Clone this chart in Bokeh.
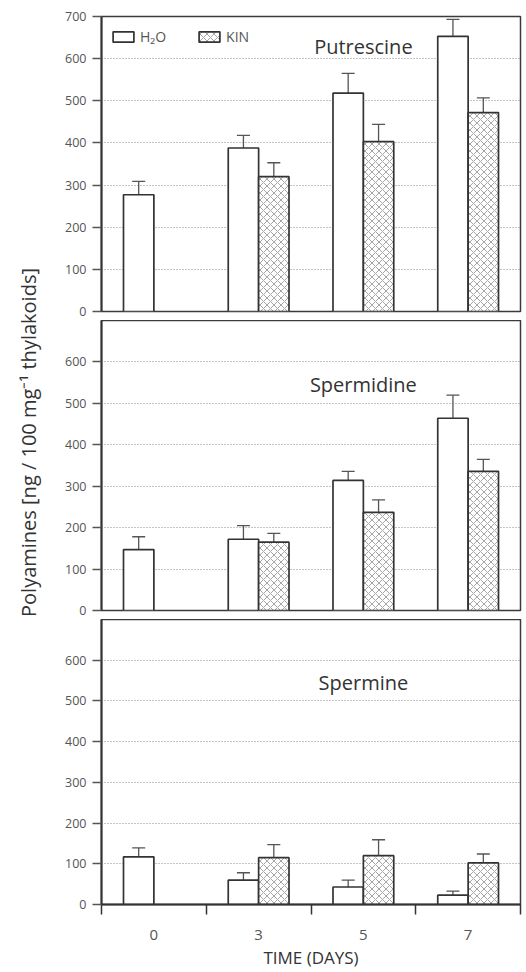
import math
from bokeh.plotting import figure
from bokeh.layouts import column, row
from bokeh.models import (Range1d, FixedTicker, Whisker, TeeHead, ColumnDataSource,
                          Label, Legend, LegendItem)
from bokeh.embed import file_html
from bokeh.resources import INLINE

# ---------------- data ----------------
days = ["0", "3", "5", "7"]
y_ticks_top = [0, 100, 200, 300, 400, 500, 600, 700]
y_ticks = [0, 100, 200, 300, 400, 500, 600]
grid_ticks = [100, 200, 300, 400, 500, 600]

put_h2o = [277, 388, 518, 653]
put_h2o_err = [32, 30, 47, 40]
put_kin = [None, 320, 403, 472]
put_kin_err = [None, 33, 41, 35]

spd_h2o = [147, 172, 314, 464]
spd_h2o_err = [31, 33, 22, 56]
spd_kin = [None, 165, 237, 336]
spd_kin_err = [None, 21, 30, 29]

spm_h2o = [117, 60, 43, 23]
spm_h2o_err = [22, 18, 17, 10]
spm_kin = [None, 115, 120, 102]
spm_kin_err = [None, 32, 39, 22]

FONT = "Open Sans"
DARK = "#333333"
GREY = "#555555"
LABEL_W = 46
TOTAL_H = 971


def series_source(vals, errs, offset):
    xs, tops, ups = [], [], []
    for i, (v, e) in enumerate(zip(vals, errs)):
        if v is None:
            continue
        xs.append(i + 0.5 + offset)
        tops.append(v)
        ups.append(v + e)
    return ColumnDataSource(dict(x=xs, top=tops, upper=ups))


def make_panel(title, title_y, h2o, h2o_err, kin, kin_err, height, b_top, b_bottom,
               ticks, show_x=False, legend=False):
    p = figure(width=479, height=height, x_range=Range1d(0, len(days)),
               y_range=Range1d(0, 700), output_backend="svg", toolbar_location=None,
               min_border_left=101 - LABEL_W, min_border_right=5, min_border_top=b_top,
               min_border_bottom=b_bottom,
               x_axis_location="below" if show_x else None)
    p.outline_line_color = "#3a3a3a"
    p.outline_line_width = 1.5
    p.background_fill_color = "white"
    p.xgrid.visible = False
    p.ygrid.ticker = FixedTicker(ticks=grid_ticks)
    p.ygrid.grid_line_color = "#888888"
    p.ygrid.grid_line_dash = "1 2"
    p.ygrid.grid_line_width = 1

    s1 = series_source(h2o, h2o_err, -0.145)
    s2 = series_source(kin, kin_err, 0.145)
    r1 = p.vbar(x="x", top="top", bottom=0, width=0.29, source=s1,
                fill_color="white", line_color=DARK, line_width=1.7)
    r2 = p.vbar(x="x", top="top", bottom=0, width=0.29, source=s2,
                fill_color="white", line_color=DARK, line_width=1.7,
                hatch_pattern="diagonal_cross", hatch_color="#808080",
                hatch_scale=7, hatch_weight=0.7)
    for s in (s1, s2):
        w = Whisker(base="x", lower="top", upper="upper", source=s, dimension="height",
                    line_color="#555555", line_width=1.3,
                    upper_head=TeeHead(size=13, line_color="#555555", line_width=1.3),
                    lower_head=None)
        p.add_layout(w)

    p.yaxis.ticker = FixedTicker(ticks=ticks)
    p.yaxis.major_tick_out = 9
    p.yaxis.major_tick_in = 0
    p.yaxis.minor_tick_out = 0
    p.yaxis.minor_tick_in = 0
    p.yaxis.axis_line_width = 2
    p.yaxis.axis_line_color = DARK
    p.yaxis.major_tick_line_color = GREY
    p.yaxis.major_tick_line_width = 1.5
    p.yaxis.major_label_text_font = FONT
    p.yaxis.major_label_text_font_size = "12.5px"
    p.yaxis.major_label_text_color = GREY
    p.yaxis.major_label_standoff = 6

    if show_x:
        centers = [i + 0.5 for i in range(len(days))]
        bounds = [float(i) for i in range(len(days) + 1)]
        p.xaxis.ticker = FixedTicker(ticks=centers, minor_ticks=bounds)
        p.xaxis.major_label_overrides = {c: d for c, d in zip(centers, days)}
        p.xaxis.major_tick_out = 0
        p.xaxis.major_tick_in = 0
        p.xaxis.minor_tick_out = 10
        p.xaxis.minor_tick_in = 0
        p.xaxis.minor_tick_line_color = DARK
        p.xaxis.minor_tick_line_width = 1.5
        p.xaxis.axis_line_width = 2
        p.xaxis.axis_line_color = DARK
        p.xaxis.major_label_text_font = FONT
        p.xaxis.major_label_text_font_size = "15px"
        p.xaxis.major_label_text_color = GREY
        p.xaxis.major_label_standoff = 15
        p.xaxis.axis_label = "TIME (DAYS)"
        p.xaxis.axis_label_text_font = FONT
        p.xaxis.axis_label_text_font_size = "17px"
        p.xaxis.axis_label_text_font_style = "normal"
        p.xaxis.axis_label_text_color = DARK
        p.xaxis.axis_label_standoff = 3

    p.add_layout(Label(x=len(days) / 2 + 0.5, y=title_y, text=title, text_align="center",
                       text_baseline="middle", text_font=FONT, text_font_size="20px",
                       text_color=DARK))

    if legend:
        lg = Legend(items=[LegendItem(label="H₂O", renderers=[r1]),
                           LegendItem(label="KIN", renderers=[r2])],
                    orientation="horizontal", location=(9, 265),
                    border_line_alpha=0, background_fill_alpha=0,
                    glyph_width=26, glyph_height=13, label_standoff=4, spacing=30,
                    padding=0, margin=0, label_text_font=FONT,
                    label_text_font_size="14px", label_text_color=GREY)
        p.add_layout(lg)
    return p


p1 = make_panel("Putrescine", 629, put_h2o, put_h2o_err, put_kin, put_kin_err,
                height=320, b_top=16, b_bottom=9, ticks=y_ticks_top, legend=True)
p2 = make_panel("Spermidine", 545, spd_h2o, spd_h2o_err, spd_kin, spd_kin_err,
                height=299, b_top=0, b_bottom=9, ticks=y_ticks)
p3 = make_panel("Spermine", 545, spm_h2o, spm_h2o_err, spm_kin, spm_kin_err,
                height=352, b_top=0, b_bottom=62, ticks=y_ticks, show_x=True)

# shared y-axis title, drawn in a narrow strip to the left of the panels
lab = figure(width=LABEL_W, height=TOTAL_H, x_range=Range1d(0, LABEL_W),
             y_range=Range1d(0, TOTAL_H), output_backend="svg", toolbar_location=None,
             x_axis_location=None, y_axis_location=None,
             min_border_left=0, min_border_right=0, min_border_top=0, min_border_bottom=0)
lab.outline_line_color = None
lab.grid.visible = False
lab.add_layout(Label(x=28, y=TOTAL_H - 442, text="Polyamines [ng / 100 mg⁻¹ thylakoids]",
                     angle=math.pi / 2, text_align="center", text_baseline="middle",
                     text_font=FONT, text_font_size="20px", text_color=DARK))

layout = row(lab, column(p1, p2, p3, spacing=0), spacing=0)
open("out.html", "w").write(file_html(layout, INLINE))
